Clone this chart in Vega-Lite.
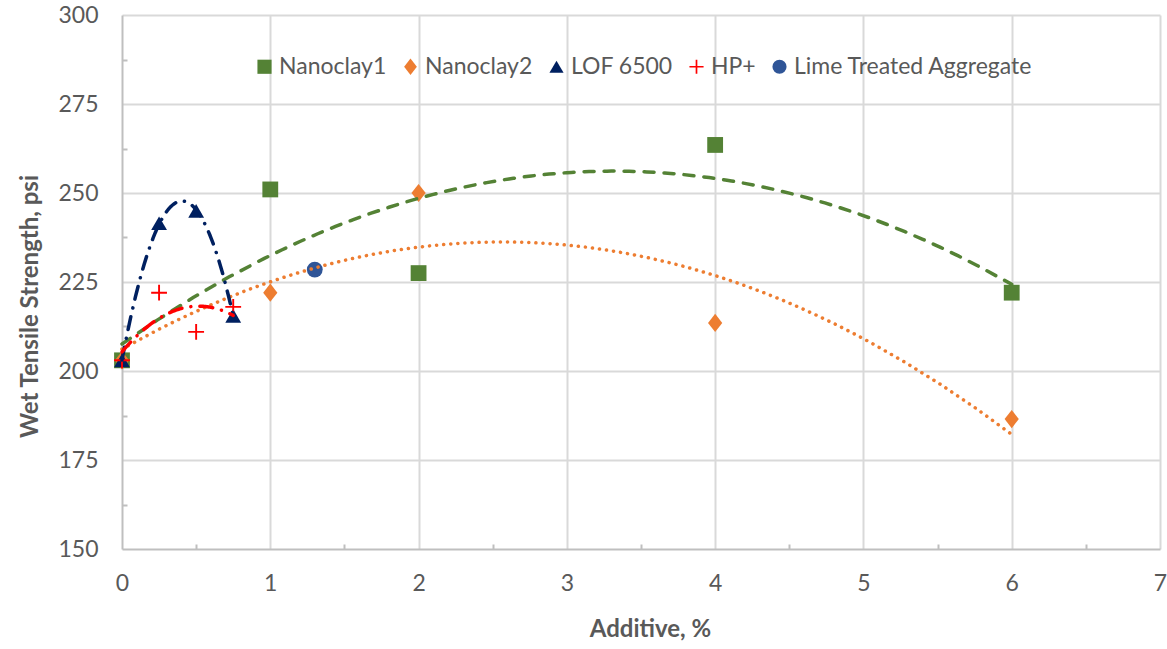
{
  "$schema": "https://vega.github.io/schema/vega-lite/v6.json",
  "autosize": "none",
  "width": 1038,
  "height": 534,
  "padding": {"left": 122, "top": 15, "right": 7, "bottom": 100},
  "background": "white",
  "config": {
    "font": "Lato",
    "view": {"stroke": null},
    "axis": {
      "domainColor": "#bfbfbf",
      "domainWidth": 2,
      "tickColor": "#bfbfbf",
      "tickWidth": 2,
      "gridWidth": 2,
      "labelColor": "#595959",
      "labelFontSize": 23,
      "labelFont": "Lato",
      "titleColor": "#595959",
      "titleFont": "Lato",
      "titleFontSize": 24,
      "titleFontWeight": "bold"
    }
  },
  "data": {
    "values": [
      {"series": "Nanoclay1", "additive": 0, "strength": 203},
      {"series": "Nanoclay1", "additive": 1, "strength": 251},
      {"series": "Nanoclay1", "additive": 2, "strength": 227.5},
      {"series": "Nanoclay1", "additive": 4, "strength": 263.5},
      {"series": "Nanoclay1", "additive": 6, "strength": 222},
      {"series": "Nanoclay2", "additive": 0, "strength": 203},
      {"series": "Nanoclay2", "additive": 1, "strength": 222},
      {"series": "Nanoclay2", "additive": 2, "strength": 250},
      {"series": "Nanoclay2", "additive": 4, "strength": 213.5},
      {"series": "Nanoclay2", "additive": 6, "strength": 186.5},
      {"series": "LOF 6500", "additive": 0, "strength": 203},
      {"series": "LOF 6500", "additive": 0.25, "strength": 241.5},
      {"series": "LOF 6500", "additive": 0.5, "strength": 245},
      {"series": "LOF 6500", "additive": 0.75, "strength": 215.5},
      {"series": "HP+", "additive": 0, "strength": 203},
      {"series": "HP+", "additive": 0.25, "strength": 222},
      {"series": "HP+", "additive": 0.5, "strength": 211},
      {"series": "HP+", "additive": 0.75, "strength": 218},
      {"series": "Lime Treated Aggregate", "additive": 1.3, "strength": 228.5}
    ]
  },
  "layer": [
    {
      "mark": {"type": "point", "filled": true, "opacity": 1, "size": 250},
      "encoding": {
        "x": {
          "field": "additive",
          "type": "quantitative",
          "scale": {"domain": [0, 7], "nice": false, "zero": false},
          "axis": {
            "title": "Additive, %",
            "values": [0, 0.5, 1, 1.5, 2, 2.5, 3, 3.5, 4, 4.5, 5, 5.5, 6, 6.5, 7],
            "labelExpr": "datum.value % 1 === 0 ? format(datum.value, 'd') : ''",
            "gridColor": {"condition": {"test": "datum.value % 1 === 0 && datum.value > 0", "value": "#d9d9d9"}, "value": "rgba(0,0,0,0)"},
            "tickSize": {"condition": {"test": "datum.value % 1 === 0", "value": 0}, "value": -5},
            "labelPadding": 23,
            "titlePadding": 22,
            "titleX": 528,
            "labelFlush": false
          }
        },
        "y": {
          "field": "strength",
          "type": "quantitative",
          "scale": {"domain": [150, 300], "nice": false, "zero": false},
          "axis": {
            "title": "Wet Tensile Strength, psi",
            "values": [150, 162.5, 175, 187.5, 200, 212.5, 225, 237.5, 250, 262.5, 275, 287.5, 300],
            "labelExpr": "datum.value % 25 === 0 ? datum.label : ''",
            "gridColor": {"condition": {"test": "datum.value % 25 === 0 && datum.value > 150", "value": "#d9d9d9"}, "value": "rgba(0,0,0,0)"},
            "tickSize": {"condition": {"test": "datum.value % 25 === 0", "value": 0}, "value": -5},
            "labelPadding": 24,
            "titlePadding": 15,
            "titleY": 291,
            "labelFlush": false
          }
        },
        "color": {
          "field": "series",
          "type": "nominal",
          "scale": {
            "domain": ["Nanoclay1", "Nanoclay2", "LOF 6500", "HP+", "Lime Treated Aggregate"],
            "range": ["#548235", "#ED7D31", "#002060", "#FF0000", "#2F5597"]
          },
          "legend": {
            "title": null,
            "orient": "none",
            "direction": "horizontal",
            "legendX": 131,
            "legendY": 40,
            "columns": 5,
            "columnPadding": 12,
            "labelFontSize": 23,
            "labelFont": "Lato",
            "labelColor": "#595959",
            "labelOffset": 3,
            "labelLimit": 400,
            "symbolSize": 200,
            "symbolStrokeWidth": 0
          }
        },
        "shape": {
          "field": "series",
          "type": "nominal",
          "scale": {
            "domain": ["Nanoclay1", "Nanoclay2", "LOF 6500", "HP+", "Lime Treated Aggregate"],
            "range": [
              "square",
              "M0,-1.15L0.9,0L0,1.15L-0.9,0Z",
              "triangle-up",
              "M-0.12,-1H0.12V-0.12H1V0.12H0.12V1H-0.12V0.12H-1V-0.12H-0.12Z",
              "circle"
            ]
          },
          "legend": {
            "title": null,
            "orient": "none",
            "direction": "horizontal",
            "legendX": 131,
            "legendY": 40,
            "columns": 5,
            "columnPadding": 12,
            "labelFontSize": 23,
            "labelFont": "Lato",
            "labelColor": "#595959",
            "labelOffset": 3,
            "labelLimit": 400,
            "symbolSize": 200,
            "symbolStrokeWidth": 0
          }
        }
      }
    },
    {
      "transform": [
        {"filter": "datum.series !== 'Lime Treated Aggregate'"},
        {"regression": "strength", "on": "additive", "method": "poly", "order": 2, "groupby": ["series"]}
      ],
      "mark": {"type": "line", "strokeWidth": 3.5, "strokeCap": "round"},
      "encoding": {
        "x": {"field": "additive", "type": "quantitative"},
        "y": {"field": "strength", "type": "quantitative"},
        "detail": {"field": "series"},
        "stroke": {
          "field": "series",
          "type": "nominal",
          "legend": null,
          "scale": {
            "domain": ["Nanoclay1", "Nanoclay2", "LOF 6500", "HP+"],
            "range": ["#548235", "#ED7D31", "#002060", "#FF0000"]
          }
        },
        "strokeDash": {
          "field": "series",
          "type": "nominal",
          "legend": null,
          "scale": {
            "domain": ["Nanoclay1", "Nanoclay2", "LOF 6500", "HP+"],
            "range": [[10, 10], [0.1, 7], [13, 9, 0.1, 9], [13, 9, 0.1, 9]]
          }
        }
      }
    }
  ]
}
